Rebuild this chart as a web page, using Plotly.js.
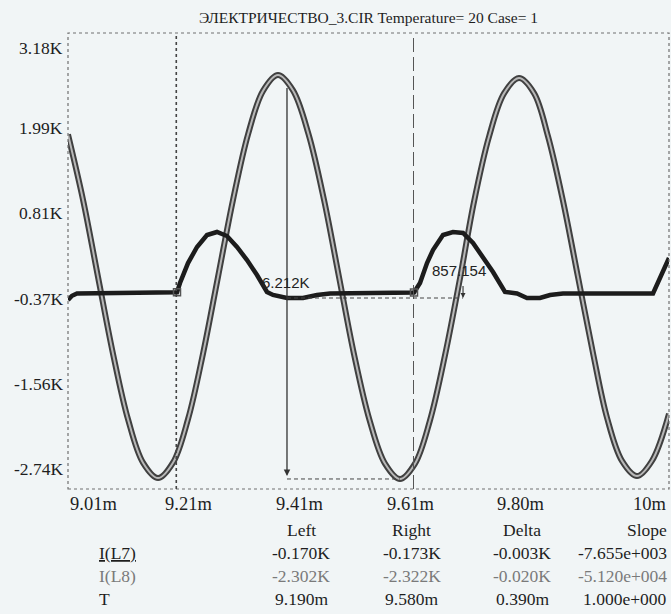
<!DOCTYPE html>
<html>
<head>
<meta charset="utf-8">
<script src="https://cdn.plot.ly/plotly-3.0.1.min.js"></script>
<style>
  html, body { margin: 0; padding: 0; background: #f1f5f6; }
  #chart { width: 671px; height: 614px; }
</style>
</head>
<body>
<div id="chart"></div>
<script>
// ---------- data (time in ms, current in A) ----------
const l8T = [9.0120, 9.0367, 9.0613, 9.0860, 9.1106, 9.1353, 9.1600, 9.1846, 9.2093, 9.2339,
             9.2586, 9.2833, 9.3079, 9.3326, 9.3572, 9.3819, 9.4074, 9.4328, 9.4575, 9.4822,
             9.5076, 9.5331, 9.5578, 9.5824, 9.6071, 9.6318, 9.6564, 9.6794, 9.7041, 9.7288,
             9.7534, 9.7781, 9.8011, 9.8257, 9.8504, 9.8751, 9.8981, 9.9227, 9.9474, 9.9721, 10.000];
const l8I = [1903, 997, -72, -1140, -2047, -2651, -2864, -2651, -2047, -1140,
             -72, 997, 1903, 2508, 2728, 2514, 1907, 998, -74, -1147,
             -2056, -2663, -2877, -2665, -2063, -1160, -95, 969, 1872, 2473,
             2686, 2476, 1877, 982, -75, -1132, -2027, -2626, -2836, -2624, -1973];

const l7T = [9.0120, 9.0186, 9.0268, 9.1912, 9.1961, 9.2093, 9.2241, 9.2405, 9.2569, 9.2734,
             9.2898, 9.3063, 9.3227, 9.3391, 9.3490, 9.3720, 9.3983, 9.4213, 9.4427, 9.5808,
             9.5907, 9.6022, 9.6120, 9.6285, 9.6449, 9.6614, 9.6778, 9.6942, 9.7107, 9.7304,
             9.7501, 9.7666, 9.7879, 9.8044, 9.8257, 9.9737, 10.000];
const l7I = [-394, -335, -303, -287, -158, 119, 342, 508, 550, 494,
             342, 161, -47, -282, -324, -366, -366, -324, -303, -290,
             -158, 119, 300, 508, 550, 536, 398, 203, -5, -282,
             -303, -366, -366, -324, -303, -303, 189];

const cursorT = [9.190, 9.580];
const cursorIdx = [3, 19];

const xTickVals = [9.012, 9.2096, 9.4072, 9.6048, 9.8024, 10.0];
const xTickText = ['9.01m', '9.21m', '9.41m', '9.61m', '9.80m', '10m'];
const yTickVals = [3177, 1993, 809, -375, -1559, -2743];
const yTickText = ['3.18K', '1.99K', '0.81K', '-0.37K', '-1.56K', '-2.74K'];

const tableHead = ['Left', 'Right', 'Delta', 'Slope'];
const tableRows = [
  {name: '<u>I(L7)</u>', vals: ['-0.170K', '-0.173K', '-0.003K', '-7.655e+003'], color: '#1e1e1e'},
  {name: 'I(L8)',        vals: ['-2.302K', '-2.322K', '-0.020K', '-5.120e+004'], color: '#7a7a7a'},
  {name: 'T',            vals: ['9.190m', '9.580m', '0.390m', '1.000e+000'], color: '#1e1e1e'}
];

const titleText = 'ЭЛЕКТРИЧЕСТВО_3.CIR Temperature= 20 Case= 1';

// ---------- traces ----------
const traces = [
  {x: l8T, y: l8I, mode: 'lines', line: {color: '#404040', width: 6, shape: 'spline', smoothing: 1}, hoverinfo: 'skip', showlegend: false},
  {x: l8T, y: l8I, mode: 'lines', line: {color: '#b8b8b8', width: 2, shape: 'spline', smoothing: 1}, hoverinfo: 'skip', showlegend: false},
  {x: l7T, y: l7I, mode: 'lines', line: {color: '#1c1c1c', width: 4.5}, hoverinfo: 'skip', showlegend: false},
  {x: cursorIdx.map(i => l7T[i]), y: cursorIdx.map(i => l7I[i]), mode: 'markers',
   marker: {symbol: 'square-open', size: 7, color: '#555', line: {width: 1.5}}, hoverinfo: 'skip', showlegend: false}
];

// ---------- annotations ----------
const serif = 'Liberation Serif, Times New Roman, serif';
const ann = [];
const nX = xTickVals.length;
xTickVals.forEach((v, i) => {
  const first = i === 0, last = i === nX - 1;
  ann.push({x: v, xref: 'x', y: 0, yref: 'paper', yanchor: 'top', yshift: -3,
    xanchor: first ? 'left' : (last ? 'right' : 'center'),
    xshift: (first || last) ? 0 : -(i - 1) * 9.3,
    text: xTickText[i], showarrow: false, font: {family: serif, size: 18.5, color: '#1e1e1e'}});
});
yTickVals.forEach((v, i) => {
  ann.push({x: 0, xref: 'paper', xanchor: 'right', xshift: -3, y: v, yref: 'y',
    yanchor: 'middle', yshift: i === 0 ? -5 : 0,
    text: yTickText[i], showarrow: false, font: {family: serif, size: 17.5, color: '#1e1e1e'}});
});
const colX = [0.388, 0.572, 0.756, 1.0];
const rowY = [-0.0899, -0.1404, -0.1908, -0.2412];
tableHead.forEach((h, j) => {
  ann.push({x: colX[j], xref: 'paper', xanchor: j === 3 ? 'right' : 'center', y: rowY[0], yref: 'paper', yanchor: 'middle',
    text: h, showarrow: false, font: {family: serif, size: 17.5, color: '#1e1e1e'}});
});
tableRows.forEach((r, i) => {
  ann.push({x: 0.048, xref: 'paper', xanchor: 'left', y: rowY[i + 1], yref: 'paper', yanchor: 'middle',
    text: r.name, showarrow: false, font: {family: serif, size: 17.5, color: r.color}});
  r.vals.forEach((v, j) => {
    ann.push({x: colX[j], xref: 'paper', xanchor: j === 3 ? 'right' : 'center', y: rowY[i + 1], yref: 'paper', yanchor: 'middle',
      text: v, showarrow: false, font: {family: serif, size: 17.5, color: r.color}});
  });
});

// measurement overlays
const peakVal = l8I[14];
const troughVal = l8I[22];
const measX = 9.372;
ann.push({x: measX, y: troughVal + 40, xref: 'x', yref: 'y', ax: measX, ay: peakVal - 40, axref: 'x', ayref: 'y',
  text: ' ', showarrow: true, arrowhead: 2, arrowsize: 1, arrowwidth: 1.3, arrowcolor: '#333'});
ann.push({x: measX - 0.002, y: -144, xref: 'x', yref: 'y', text: '6.212K', showarrow: false,
  font: {family: 'Liberation Sans, Arial, sans-serif', size: 15, color: '#222'}});
const dipVal = l7I[15];
const arrX = 9.6614;
ann.push({x: arrX, y: dipVal, xref: 'x', yref: 'y', ax: arrX, ay: -60, axref: 'x', ayref: 'y',
  text: ' ', showarrow: true, arrowhead: 2, arrowsize: 0.9, arrowwidth: 1.1, arrowcolor: '#333'});
ann.push({x: 9.655, y: 9, xref: 'x', yref: 'y', text: '857.154', showarrow: false,
  font: {family: 'Liberation Sans, Arial, sans-serif', size: 15, color: '#222'}});

const shapes = [
  {type: 'rect', xref: 'paper', yref: 'paper', x0: 0, x1: 1, y0: 0, y1: 1, line: {color: '#707070', width: 1.2, dash: 'dot'}},
  {type: 'line', xref: 'x', yref: 'paper', x0: cursorT[0], x1: cursorT[0], y0: 0, y1: 1, line: {color: '#444', width: 1.6, dash: '3px,3px'}},
  {type: 'line', xref: 'x', yref: 'paper', x0: cursorT[1], x1: cursorT[1], y0: 0, y1: 1, line: {color: '#555', width: 1, dash: '14px,5px'}},
  {type: 'line', xref: 'x', yref: 'y', x0: measX, x1: l8T[22], y0: troughVal, y1: troughVal, line: {color: '#444', width: 1, dash: '4px,3px'}},
  {type: 'line', xref: 'x', yref: 'y', x0: measX, x1: arrX, y0: dipVal, y1: dipVal, line: {color: '#444', width: 1, dash: '4px,3px'}}
];

const layout = {
  width: 671, height: 614,
  margin: {l: 68, r: 2, t: 33, b: 125, pad: 0},
  paper_bgcolor: '#f1f5f6', plot_bgcolor: '#f1f5f6',
  title: {text: titleText, x: 0.5, xref: 'paper', xanchor: 'center', y: 0.972, yref: 'container', yanchor: 'middle',
          font: {family: serif, size: 15.5, color: '#1e1e1e'}},
  xaxis: {range: [9.012, 10.0], showgrid: false, zeroline: false, showticklabels: false, ticks: '', showline: false, fixedrange: true},
  yaxis: {range: [-3016, 3311], showgrid: false, zeroline: false, showticklabels: false, ticks: '', showline: false, fixedrange: true},
  annotations: ann,
  shapes: shapes
};

Plotly.newPlot('chart', traces, layout, {displayModeBar: false, staticPlot: true});
</script>
</body>
</html>
